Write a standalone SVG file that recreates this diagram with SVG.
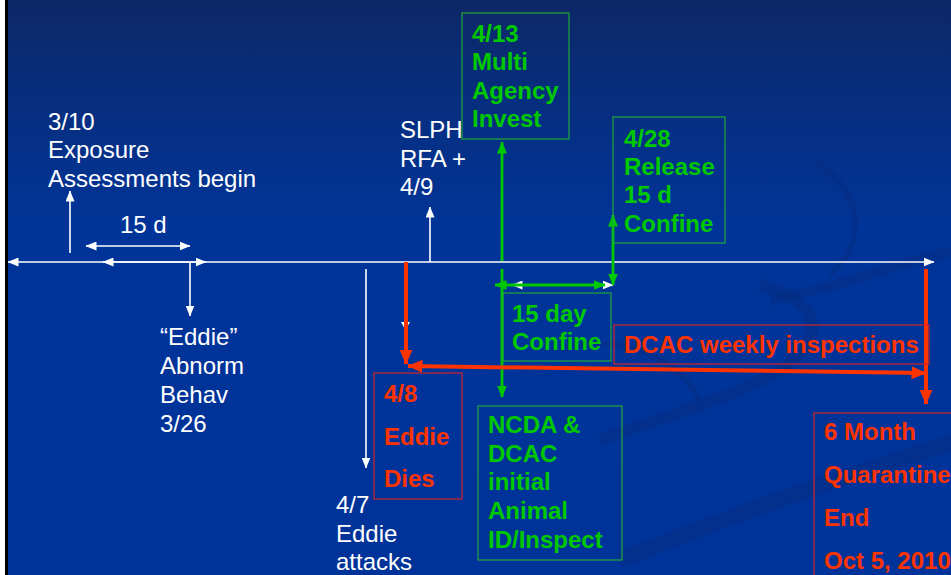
<svg xmlns="http://www.w3.org/2000/svg" width="951" height="575" viewBox="0 0 951 575">
<defs>
<linearGradient id="bg" x1="0" y1="0" x2="0" y2="1">
<stop offset="0" stop-color="#0e2766"/>
<stop offset="0.12" stop-color="#082d78"/>
<stop offset="0.4" stop-color="#013499"/>
<stop offset="1" stop-color="#003399"/>
</linearGradient>
<marker id="aw" viewBox="0 0 11 9" markerWidth="11" markerHeight="9" refX="10.5" refY="4.5" orient="auto-start-reverse" markerUnits="userSpaceOnUse"><path d="M0,0 L11,4.5 L0,9 z" fill="#ffffff"/></marker>
<marker id="ag" viewBox="0 0 12 10" markerWidth="12" markerHeight="10" refX="11.5" refY="5" orient="auto-start-reverse" markerUnits="userSpaceOnUse"><path d="M0,0 L12,5 L0,10 z" fill="#00c800"/></marker>
<marker id="ar" viewBox="0 0 15 13" markerWidth="15" markerHeight="13" refX="14.5" refY="6.5" orient="auto-start-reverse" markerUnits="userSpaceOnUse"><path d="M0,0 L15,6.5 L0,13 z" fill="#ff3300"/></marker>
</defs>
<style>
text{font-family:"Liberation Sans",Arial,sans-serif;font-size:24px}
.w{fill:#ffffff}
.g{fill:#00c800;font-weight:bold}
.r{fill:#ff3300;font-weight:bold}
.gb{fill:none;stroke:#1fa83a;stroke-width:1.2}
.rb{fill:none;stroke:#d0262a;stroke-width:1.2}
.lw{stroke:#ffffff;stroke-width:1.6;fill:none}
.lg{stroke:#00c800;stroke-width:2.8;fill:none}
.lr{stroke:#ff3300;stroke-width:4;fill:none}
.sw{fill:none;stroke:#0a2a78;stroke-opacity:0.35}
</style>
<rect x="0" y="0" width="951" height="575" fill="url(#bg)"/>
<g id="swirls">
<path class="sw" stroke-width="16" d="M620,560 C720,520 830,480 960,440"/>
<path class="sw" stroke-width="12" d="M760,285 C820,300 830,340 780,370 C730,400 650,420 600,440"/>
<path class="sw" stroke-width="10" d="M770,300 C870,280 900,260 960,250"/>
<path class="sw" stroke-width="6" stroke-opacity="0.2" d="M815,160 C860,190 870,240 830,275"/>
<path class="sw" stroke-width="6" stroke-opacity="0.2" d="M560,350 C620,330 680,360 700,400"/>
</g>
<rect x="0" y="0" width="5" height="575" fill="#ffffff"/>
<rect x="5" y="0" width="3" height="575" fill="#000000"/>
<g id="connectors">
<line class="lw" x1="8" y1="262" x2="934" y2="262" marker-start="url(#aw)" marker-end="url(#aw)"/>
<line class="lw" x1="103" y1="262" x2="206" y2="262" marker-start="url(#aw)" marker-end="url(#aw)"/>
<line class="lw" x1="86" y1="246" x2="190" y2="246" marker-start="url(#aw)" marker-end="url(#aw)"/>
<line class="lw" x1="70" y1="253" x2="70" y2="191" marker-end="url(#aw)"/>
<line class="lw" x1="190" y1="262" x2="190" y2="316" marker-end="url(#aw)"/>
<line class="lw" x1="430" y1="262" x2="430" y2="207" marker-end="url(#aw)"/>
<line class="lw" x1="366" y1="269" x2="366" y2="468" marker-end="url(#aw)"/>
<polygon points="401,322 410,322 405.5,330" fill="#ffffff"/>
<line class="lg" x1="502" y1="261" x2="502" y2="142" marker-end="url(#ag)"/>
<line class="lg" x1="502" y1="269" x2="502" y2="397" marker-end="url(#ag)"/>
<line class="lw" x1="512" y1="285" x2="613" y2="285" marker-start="url(#aw)" marker-end="url(#aw)"/>
<line class="lg" x1="495" y1="285" x2="605" y2="285" stroke-width="2" marker-start="url(#ag)" marker-end="url(#ag)"/>
<line class="lg" x1="613" y1="285" x2="613" y2="215" marker-start="url(#ag)" marker-end="url(#ag)"/>
<line class="lr" x1="406" y1="262" x2="406" y2="364" marker-end="url(#ar)"/>
<line class="lr" x1="408" y1="366" x2="926" y2="373" marker-start="url(#ar)" marker-end="url(#ar)"/>
<line class="lr" x1="926" y1="269" x2="926" y2="404" marker-end="url(#ar)"/>
</g>
<g id="n-exposure">
<text class="w"><tspan x="48" y="130">3/10</tspan><tspan x="48" y="158">Exposure</tspan><tspan x="48" y="187">Assessments begin</tspan></text>
</g>
<g id="n-15d">
<text class="w" x="120" y="233">15 d</text>
</g>
<g id="n-eddie-abnorm">
<text class="w"><tspan x="160" y="345">“Eddie”</tspan><tspan x="160" y="374">Abnorm</tspan><tspan x="160" y="403">Behav</tspan><tspan x="160" y="432">3/26</tspan></text>
</g>
<g id="n-slph">
<text class="w"><tspan x="400" y="138">SLPH</tspan><tspan x="400" y="167">RFA +</tspan><tspan x="400" y="195">4/9</tspan></text>
</g>
<g id="n-attacks">
<text class="w"><tspan x="336" y="513">4/7</tspan><tspan x="336" y="542">Eddie</tspan><tspan x="336" y="570">attacks</tspan></text>
</g>
<g id="n-multi">
<rect class="gb" x="462" y="13" width="107" height="126"/>
<text class="g"><tspan x="472" y="42">4/13</tspan><tspan x="472" y="70">Multi</tspan><tspan x="472" y="99">Agency</tspan><tspan x="472" y="127">Invest</tspan></text>
</g>
<g id="n-release">
<rect class="gb" x="613" y="117" width="112" height="126"/>
<text class="g"><tspan x="624" y="147">4/28</tspan><tspan x="624" y="175">Release</tspan><tspan x="624" y="203">15 d</tspan><tspan x="624" y="232">Confine</tspan></text>
</g>
<g id="n-15day">
<rect class="gb" x="503" y="293" width="108" height="68"/>
<text class="g"><tspan x="512" y="322">15 day</tspan><tspan x="512" y="350">Confine</tspan></text>
</g>
<g id="n-weekly">
<rect class="rb" x="614" y="325" width="315" height="39"/>
<text class="r" x="624" y="353">DCAC weekly inspections</text>
</g>
<g id="n-dies">
<rect class="rb" x="374" y="373" width="88" height="126"/>
<text class="r"><tspan x="384" y="402">4/8</tspan><tspan x="384" y="445">Eddie</tspan><tspan x="384" y="487">Dies</tspan></text>
</g>
<g id="n-ncda">
<rect class="gb" x="478" y="406" width="144" height="154"/>
<text class="g"><tspan x="488" y="433">NCDA &amp;</tspan><tspan x="488" y="462">DCAC</tspan><tspan x="488" y="490">initial</tspan><tspan x="488" y="519">Animal</tspan><tspan x="488" y="548">ID/Inspect</tspan></text>
</g>
<g id="n-quarantine">
<rect class="rb" x="814" y="413" width="150" height="180"/>
<text class="r"><tspan x="824" y="440">6 Month</tspan><tspan x="824" y="483">Quarantine</tspan><tspan x="824" y="526">End</tspan><tspan x="824" y="569">Oct 5, 2010</tspan></text>
</g>
</svg>
